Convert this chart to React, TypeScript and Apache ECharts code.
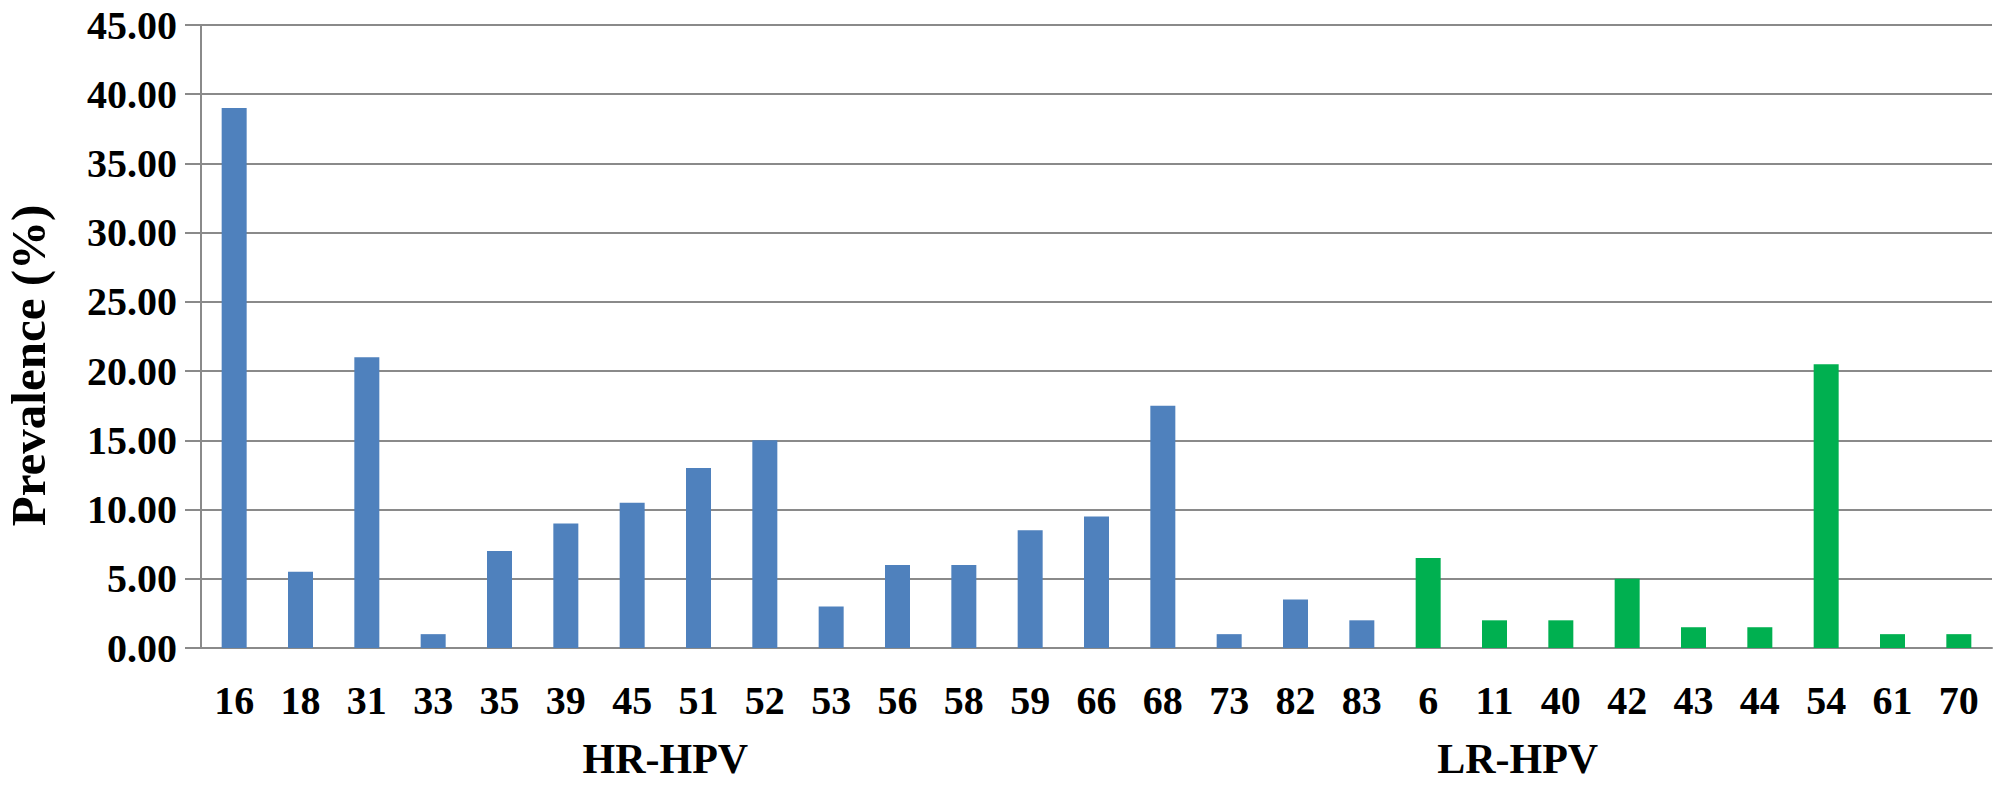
import React, { useEffect, useRef } from "react";
import * as echarts from "echarts";

const hrTypes = ["16", "18", "31", "33", "35", "39", "45", "51", "52", "53", "56", "58", "59", "66", "68", "73", "82", "83"];
const hrValues = [39.0, 5.5, 21.0, 1.0, 7.0, 9.0, 10.5, 13.0, 15.0, 3.0, 6.0, 6.0, 8.5, 9.5, 17.5, 1.0, 3.5, 2.0];
const lrTypes = ["6", "11", "40", "42", "43", "44", "54", "61", "70"];
const lrValues = [6.5, 2.0, 2.0, 5.0, 1.5, 1.5, 20.5, 1.0, 1.0];
const yTicks = [0, 5, 10, 15, 20, 25, 30, 35, 40, 45];

const HR_COLOR = "#4f81bd";
const LR_COLOR = "#00b050";
const GRID_COLOR = "#8a8a8a";
const FONT = "'Liberation Serif', 'Times New Roman', serif";

export default function App() {
  const ref = useRef<HTMLDivElement>(null);

  useEffect(() => {
    if (!ref.current) return;
    const chart = echarts.init(ref.current, null, { renderer: "svg" });
    const categories = [...hrTypes, ...lrTypes];
    const data = [
      ...hrValues.map((v) => ({ value: v, itemStyle: { color: HR_COLOR } })),
      ...lrValues.map((v) => ({ value: v, itemStyle: { color: LR_COLOR } })),
    ];
    chart.setOption({
      animation: false,
      backgroundColor: "#ffffff",
      grid: { left: 201, right: 16, top: 25, bottom: 141, containLabel: false },
      xAxis: {
        type: "category",
        data: categories,
        axisLine: { show: true, lineStyle: { color: GRID_COLOR, width: 2 } },
        axisTick: { show: false },
        axisLabel: {
          interval: 0,
          margin: 32,
          color: "#000",
          fontFamily: FONT,
          fontWeight: "bold",
          fontSize: 40,
        },
      },
      yAxis: {
        type: "value",
        min: yTicks[0],
        max: yTicks[yTicks.length - 1],
        interval: 5,
        axisLine: { show: true, lineStyle: { color: GRID_COLOR, width: 2 } },
        axisTick: { show: true, inside: false, length: 16, lineStyle: { color: GRID_COLOR, width: 2 } },
        splitLine: { show: true, lineStyle: { color: GRID_COLOR, width: 2 } },
        axisLabel: {
          margin: 24,
          color: "#000",
          fontFamily: FONT,
          fontWeight: "bold",
          fontSize: 40,
          formatter: (v: number) => v.toFixed(2),
        },
      },
      series: [
        {
          type: "bar",
          data,
          barWidth: 25,
        },
      ],
    });

    const px = (cat: string) => chart.convertToPixel({ xAxisIndex: 0 }, cat) as number;
    const hrX = (px("45") + px("51")) / 2;
    const lrX = px("11") + (px("40") - px("11")) * 0.35;
    const yMid = (chart.convertToPixel({ yAxisIndex: 0 }, 0) as number + (chart.convertToPixel({ yAxisIndex: 0 }, 45) as number)) / 2;

    chart.setOption({
      graphic: [
        {
          type: "text",
          x: hrX,
          y: 759,
          style: {
            text: "HR-HPV",
            fill: "#000",
            font: `bold 42px ${FONT}`,
            textAlign: "center",
            textVerticalAlign: "middle",
          },
        },
        {
          type: "text",
          x: lrX,
          y: 759,
          style: {
            text: "LR-HPV",
            fill: "#000",
            font: `bold 42px ${FONT}`,
            textAlign: "center",
            textVerticalAlign: "middle",
          },
        },
        {
          type: "text",
          x: 28,
          y: yMid + 29,
          rotation: Math.PI / 2,
          style: {
            text: "Prevalence (%)",
            fill: "#000",
            font: `bold 49px ${FONT}`,
            textAlign: "center",
            textVerticalAlign: "middle",
          },
        },
      ],
    });

    return () => chart.dispose();
  }, []);

  return (
    <div
      ref={ref}
      style={{ position: "fixed", left: 0, top: 0, width: 2008, height: 789, background: "#fff" }}
    />
  );
}
